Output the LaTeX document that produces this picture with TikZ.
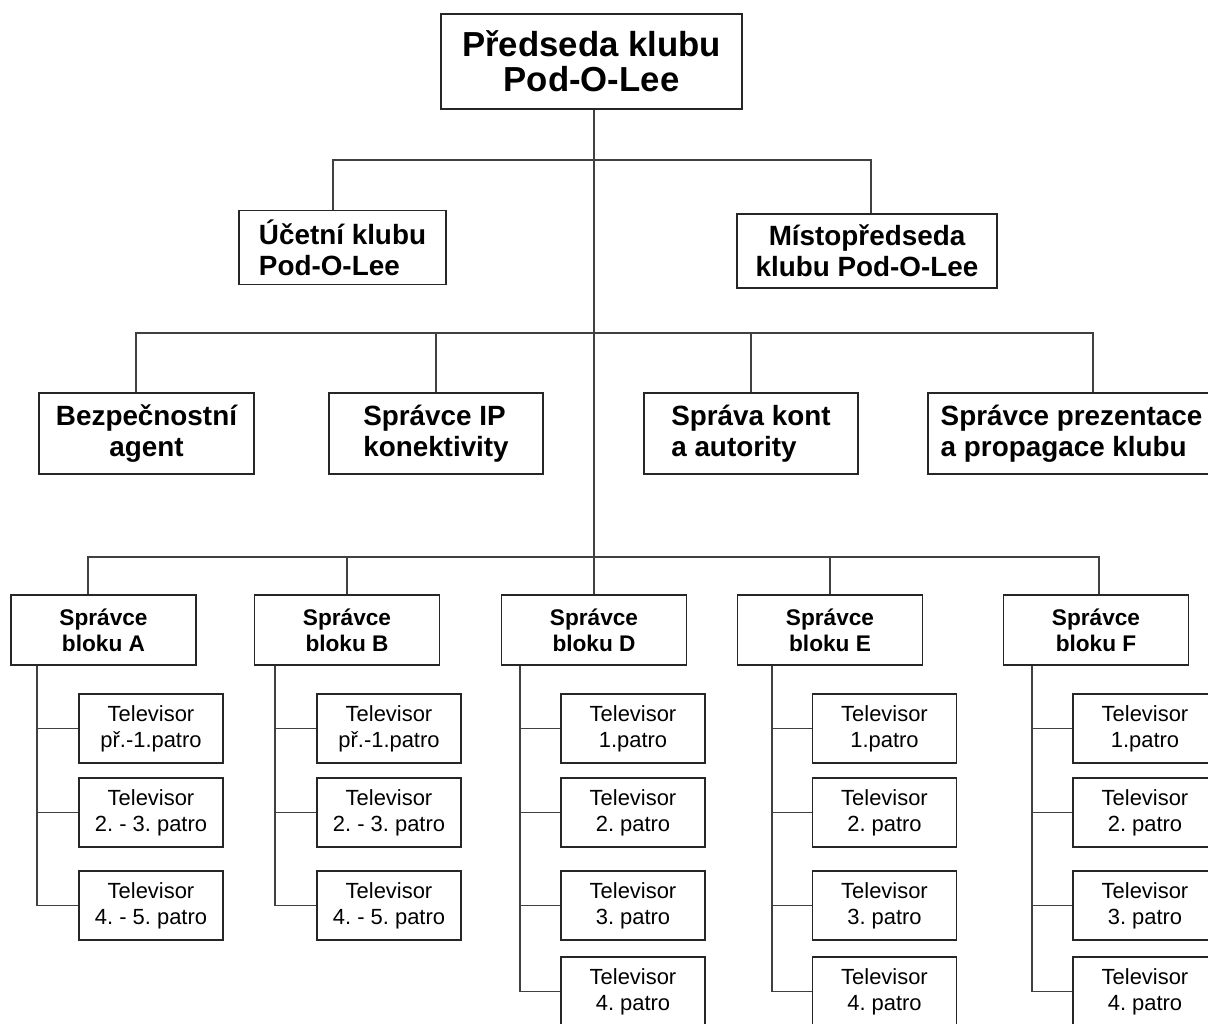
\documentclass[tikz,border=0pt]{standalone}
\usepackage{fontspec}
\setmainfont{Liberation Sans}
\frenchspacing

\begin{document}
\begin{tikzpicture}[x=0.025cm, y=-0.025cm, line width=0.8pt, draw=black!75,
  box/.style={draw=black!85, line width=1.1pt, inner sep=0pt},
  chief/.style={box, align=center, minimum width=7.525cm, minimum height=2.375cm,
    font=\bfseries\fontsize{24.7}{25}\selectfont},
  deputy/.style={box, minimum height=1.85cm, font=\bfseries\fontsize{19.8}{22}\selectfont},
  staff/.style={box, minimum width=5.35cm, minimum height=2.025cm,
    font=\bfseries\fontsize{19.8}{22}\selectfont},
  blockmgr/.style={box, align=center, minimum width=4.625cm, minimum height=1.75cm,
    font=\bfseries\fontsize{16.1}{18.5}\selectfont},
  tv/.style={box, align=center, minimum width=3.6cm, minimum height=1.725cm,
    font=\fontsize{15.6}{18.5}\selectfont}]
\useasboundingbox (0,0) rectangle (1208,1024);
\clip (0,0) rectangle (1208,1024);

% vedeni klubu
\node[chief] (chair) at (591.5,61.5) {Předseda klubu\\Pod-O-Lee};
\node[deputy, align=left, minimum width=5.175cm] (acc) at (342.5,247.5) {Účetní klubu\\Pod-O-Lee};
\node[deputy, align=center, minimum width=6.5cm] (vice) at (867,251) {Místopředseda\\klubu Pod-O-Lee};

\node[staff, align=center, minimum width=5.375cm] (sec) at (146.5,433.5) {Bezpečnostní\\agent};
\node[staff, align=left] (ip) at (436,433.5) {Správce IP\\konektivity};
\node[staff, align=left] (acct) at (751,433.5) {Správa kont\\a autority};
\node[staff, align=left, minimum width=7.175cm] (pr) at (1071.5,433.5) {Správce prezentace\\a propagace klubu};

% spravci bloku
\node[blockmgr] (blkA) at (103.5,630) {Správce\\bloku A};
\node[blockmgr] (blkB) at (347,630) {Správce\\bloku B};
\node[blockmgr] (blkD) at (594,630) {Správce\\bloku D};
\node[blockmgr] (blkE) at (830,630) {Správce\\bloku E};
\node[blockmgr] (blkF) at (1096,630) {Správce\\bloku F};

% televizory
\node[tv] (tvA1) at (151,728.5) {Televisor\\př.-1.patro};
\node[tv] (tvA2) at (151,812.5) {Televisor\\2. - 3. patro};
\node[tv] (tvA3) at (151,905.5) {Televisor\\4. - 5. patro};

\node[tv] (tvB1) at (389,728.5) {Televisor\\př.-1.patro};
\node[tv] (tvB2) at (389,812.5) {Televisor\\2. - 3. patro};
\node[tv] (tvB3) at (389,905.5) {Televisor\\4. - 5. patro};

\node[tv] (tvD1) at (633,728.5) {Televisor\\1.patro};
\node[tv] (tvD2) at (633,812.5) {Televisor\\2. patro};
\node[tv] (tvD3) at (633,905.5) {Televisor\\3. patro};
\node[tv] (tvD4) at (633,991.5) {Televisor\\4. patro};

\node[tv] (tvE1) at (884.5,728.5) {Televisor\\1.patro};
\node[tv] (tvE2) at (884.5,812.5) {Televisor\\2. patro};
\node[tv] (tvE3) at (884.5,905.5) {Televisor\\3. patro};
\node[tv] (tvE4) at (884.5,991.5) {Televisor\\4. patro};

\node[tv] (tvF1) at (1145,728.5) {Televisor\\1.patro};
\node[tv] (tvF2) at (1145,812.5) {Televisor\\2. patro};
\node[tv] (tvF3) at (1145,905.5) {Televisor\\3. patro};
\node[tv] (tvF4) at (1145,991.5) {Televisor\\4. patro};

% spojnice
\coordinate (hub1) at (594,160);
\coordinate (hub2) at (594,333);
\coordinate (hub3) at (594,557);
\draw (chair.south -| blkD.north) -- (blkD.north);
\draw (acc.north -| 333,0) |- (hub1) -| (vice.north -| 871,0);
\draw (sec.north -| 136,0) |- (hub2) -| (pr.north -| 1093,0);
\draw (ip.north) |- (hub2) -| (acct.north);
\draw (blkA.north -| 88,0) |- (hub3) -| (blkF.north -| 1099,0);
\draw (blkB.north) |- (hub3) -| (blkE.north);

\draw (blkA.south -| 37,0) |- (tvA3.west) (tvA1.west) -- (tvA1.west -| 37,0) (tvA2.west) -- (tvA2.west -| 37,0);
\draw (blkB.south -| 275,0) |- (tvB3.west) (tvB1.west) -- (tvB1.west -| 275,0) (tvB2.west) -- (tvB2.west -| 275,0);
\draw (blkD.south -| 520,0) |- (tvD4.west) (tvD1.west) -- (tvD1.west -| 520,0) (tvD2.west) -- (tvD2.west -| 520,0)
  (tvD3.west) -- (tvD3.west -| 520,0);
\draw (blkE.south -| 772,0) |- (tvE4.west) (tvE1.west) -- (tvE1.west -| 772,0) (tvE2.west) -- (tvE2.west -| 772,0)
  (tvE3.west) -- (tvE3.west -| 772,0);
\draw (blkF.south -| 1032,0) |- (tvF4.west) (tvF1.west) -- (tvF1.west -| 1032,0) (tvF2.west) -- (tvF2.west -| 1032,0)
  (tvF3.west) -- (tvF3.west -| 1032,0);

\end{tikzpicture}
\end{document}
